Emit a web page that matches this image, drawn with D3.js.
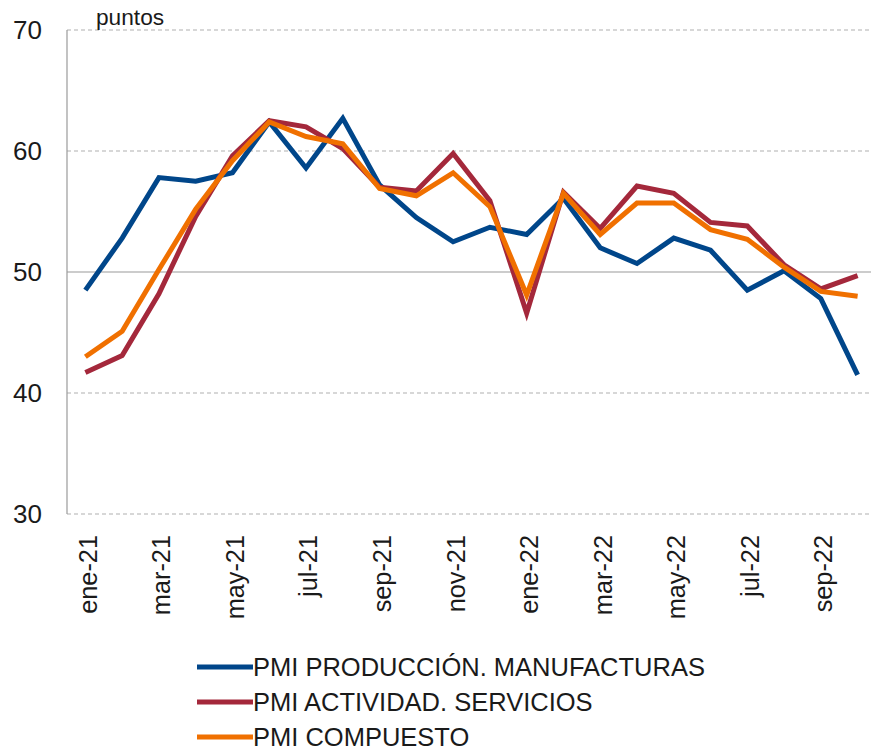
<!DOCTYPE html>
<html>
<head>
<meta charset="utf-8">
<script src="https://cdn.jsdelivr.net/npm/d3@7"></script>
<style>
  html, body { margin: 0; padding: 0; background: #fff; }
  svg { display: block; font-family: "Liberation Sans", Arial, sans-serif; }
</style>
</head>
<body>
<svg id="chart" width="871" height="751"></svg>
<script>
// Meses (ene-21 .. oct-22)
const months = ["ene-21","feb-21","mar-21","abr-21","may-21","jun-21","jul-21","ago-21","sep-21","oct-21","nov-21","dic-21",
                "ene-22","feb-22","mar-22","abr-22","may-22","jun-22","jul-22","ago-22","sep-22","oct-22"];
const tickMonths = ["ene-21","mar-21","may-21","jul-21","sep-21","nov-21","ene-22","mar-22","may-22","jul-22","sep-22"];
const yTicks = [30, 40, 50, 60, 70];

const manufacturas = [48.5, 52.8, 57.8, 57.5, 58.2, 62.4, 58.6, 62.7, 57.2, 54.5, 52.5, 53.7,
                      53.1, 56.1, 52.0, 50.7, 52.8, 51.8, 48.5, 50.1, 47.8, 41.5];
const servicios    = [41.7, 43.1, 48.2, 54.6, 59.6, 62.5, 62.0, 60.2, 57.0, 56.7, 59.8, 55.9,
                      46.6, 56.6, 53.6, 57.1, 56.5, 54.1, 53.8, 50.6, 48.6, 49.7];
const compuesto    = [43.0, 45.1, 50.2, 55.2, 59.2, 62.4, 61.2, 60.6, 56.9, 56.3, 58.2, 55.4,
                      48.1, 56.5, 53.1, 55.7, 55.7, 53.5, 52.7, 50.4, 48.4, 48.0];

const seriesNames = ["PMI PRODUCCIÓN. MANUFACTURAS", "PMI ACTIVIDAD. SERVICIOS", "PMI COMPUESTO"];
const seriesColors = ["#00468a", "#a4283b", "#f07000"];
const seriesValues = [manufacturas, servicios, compuesto];

const svg = d3.select("#chart");

const plotLeft = 67, plotRight = 876, plotTop = 30, plotBottom = 514;

const x = d3.scaleBand().domain(months).range([plotLeft, plotRight]).padding(0);
const y = d3.scaleLinear().domain([30, 70]).range([plotBottom, plotTop]);
const cx = m => x(m) + x.bandwidth() / 2;

// Líneas horizontales de referencia
svg.append("g").selectAll("line")
  .data(yTicks)
  .join("line")
  .attr("x1", plotLeft).attr("x2", 871)
  .attr("y1", d => y(d)).attr("y2", d => y(d))
  .attr("stroke", d => d === 50 ? "#9a9a9a" : "#b0b0b0")
  .attr("stroke-width", 1.2)
  .attr("stroke-dasharray", d => d === 50 ? null : "4,3");

// Eje vertical
svg.append("line")
  .attr("x1", plotLeft).attr("x2", plotLeft)
  .attr("y1", y(70)).attr("y2", y(30))
  .attr("stroke", "#9a9a9a").attr("stroke-width", 1.2);

// Etiquetas del eje Y
const yAxis = d3.axisLeft(y).tickValues(yTicks).tickSize(0).tickPadding(25);
const gy = svg.append("g").attr("transform", `translate(${plotLeft},0)`).call(yAxis);
gy.select(".domain").remove();
gy.selectAll("text")
  .attr("font-size", 26)
  .attr("fill", "#1a1a1a")
  .attr("font-family", "Liberation Sans, Arial, sans-serif");

svg.append("text")
  .attr("x", 96).attr("y", 25)
  .attr("font-size", 22.7)
  .attr("fill", "#1a1a1a")
  .text("puntos");

// Etiquetas del eje X (verticales)
const xAxis = d3.axisBottom(x).tickValues(tickMonths).tickSize(0).tickPadding(0);
const gx = svg.append("g").attr("transform", `translate(0,${plotBottom})`).call(xAxis);
gx.select(".domain").remove();
gx.selectAll("text")
  .attr("font-size", 25.3)
  .attr("fill", "#1a1a1a")
  .attr("font-family", "Liberation Sans, Arial, sans-serif")
  .attr("text-anchor", "end")
  .attr("transform", "translate(0,21) rotate(-90)")
  .attr("x", 0).attr("y", 0).attr("dy", "0.45em");

// Series
const line = d3.line()
  .x((d, i) => cx(months[i]))
  .y(d => y(d));

svg.append("g").selectAll("path")
  .data(seriesValues)
  .join("path")
  .attr("d", d => line(d))
  .attr("fill", "none")
  .attr("stroke", (d, i) => seriesColors[i])
  .attr("stroke-width", 5)
  .attr("stroke-linejoin", "miter")
  .attr("stroke-linecap", "butt");

// Leyenda
const leg = svg.append("g").selectAll("g")
  .data(seriesNames)
  .join("g")
  .attr("transform", (d, i) => `translate(197,${667 + i * 35})`);
leg.append("line")
  .attr("x1", 0).attr("x2", 56).attr("y1", 0).attr("y2", 0)
  .attr("stroke", (d, i) => seriesColors[i])
  .attr("stroke-width", 5);
leg.append("text")
  .attr("x", 56).attr("y", 0).attr("dy", "0.36em")
  .attr("font-size", 25.5)
  .attr("fill", "#1a1a1a")
  .text(d => d);
</script>
</body>
</html>
